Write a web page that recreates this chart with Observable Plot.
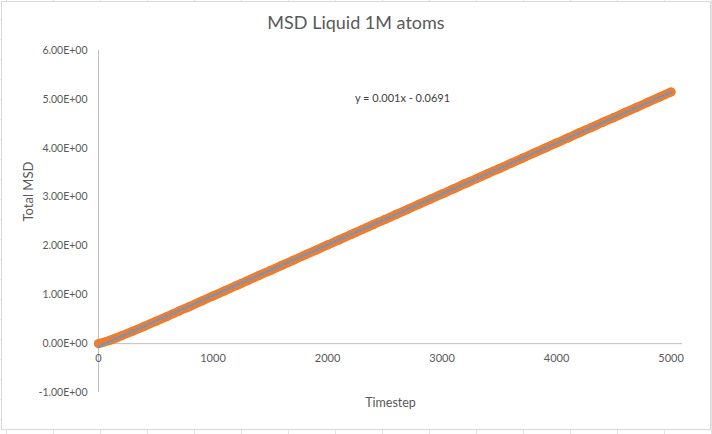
<!DOCTYPE html>
<html>
<head>
<meta charset="utf-8">
<script src="https://cdn.jsdelivr.net/npm/d3@7"></script>
<script src="https://cdn.jsdelivr.net/npm/@observablehq/plot@0.6"></script>
<style>
  html, body { margin: 0; padding: 0; }
  body {
    width: 712px; height: 434px; overflow: hidden; position: relative;
    background-color: #fff;
    background-image:
      repeating-linear-gradient(to bottom, transparent 0, transparent 19px, #e3e3e3 19px, #e3e3e3 20px),
      repeating-linear-gradient(to right, transparent 0, transparent 6px, #e3e3e3 6px, #e3e3e3 7px, transparent 7px, transparent 47px);
    font-family: Lato, "Liberation Sans", sans-serif;
  }
  #box {
    position: absolute; left: 1px; top: 1px; width: 708px; height: 427px;
    background: #fff; border: 1px solid #d9d9d9;
  }
  #title {
    position: absolute; left: 0; top: 10px; width: 712px; text-align: center;
    font-size: 18px; color: #595959; line-height: 24px;
  }
  #chart { position: absolute; left: 0; top: 0; }
</style>
</head>
<body>
<div id="box"></div>
<div id="title">MSD Liquid 1M atoms</div>
<div id="chart"></div>
<script>
// Data
const timesteps = [0,100,200,300,400,500,600,700,800,900,1000,1100,1200,1300,1400,1500,1600,1700,1800,1900,2000,
  2100,2200,2300,2400,2500,2600,2700,2800,2900,3000,3100,3200,3300,3400,3500,3600,3700,3800,3900,4000,
  4100,4200,4300,4400,4500,4600,4700,4800,4900,5000];
const totalMSD = [0.000,0.070,0.160,0.256,0.355,0.457,0.558,0.663,0.765,0.872,0.976,1.078,1.185,1.287,1.394,1.496,
  1.602,1.705,1.811,1.914,2.020,2.122,2.229,2.331,2.438,2.540,2.646,2.749,2.855,2.958,3.064,3.166,3.273,3.375,
  3.482,3.584,3.690,3.793,3.899,4.002,4.108,4.210,4.317,4.419,4.526,4.628,4.734,4.837,4.943,5.046,5.151];
const xTicks = [0,1000,2000,3000,4000,5000];
const yTicks = [-1,0,1,2,3,4,5,6];
const trendLabel = "y = 0.001x - 0.0691";
const xLabel = "Timestep";
const yLabel = "Total MSD";

const data = timesteps.map((t, i) => ({t, msd: totalMSD[i]}));

const sci = d => {
  const s = d.toExponential(2).toUpperCase();
  return s.replace(/E([+-])(\d)$/, "E$10$2");
};

const orange = "#ed7d31";
const blue = "#5b9bd5";
const grey = "#595959";

const chart = Plot.plot({
  width: 712,
  height: 434,
  marginLeft: 98,
  marginRight: 30,
  marginTop: 50,
  marginBottom: 42,
  style: {fontFamily: "Lato, 'Liberation Sans', sans-serif", fontSize: "11px", color: grey, background: "transparent", overflow: "visible"},
  x: {domain: [0, 5100], axis: null},
  y: {domain: [-1, 6], axis: null},
  marks: [
    Plot.ruleX([0], {stroke: "#bfbfbf", strokeWidth: 1}),
    Plot.ruleY([0], {stroke: "#bfbfbf", strokeWidth: 1}),
    Plot.axisY(yTicks, {tickSize: 0, tickPadding: 11, tickFormat: sci, label: null, fontSize: 10.5}),
    Plot.text(xTicks, {x: d => d, y: () => 0, dy: 15, text: d => String(d), fill: grey, fontSize: 11}),
    Plot.text([yLabel], {frameAnchor: "left", rotate: -90, dx: -70, fill: grey, fontSize: 13}),
    Plot.text([xLabel], {frameAnchor: "bottom", dy: 14, fill: grey, fontSize: 12.5}),
    Plot.line(data, {x: "t", y: "msd", stroke: orange, strokeWidth: 9, strokeLinecap: "round", curve: "monotone-x"}),
    Plot.dot(data, {x: "t", y: "msd", r: 4.5, fill: orange, stroke: null}),
    Plot.linearRegressionY(data, {x: "t", y: "msd", ci: 0, stroke: blue, strokeWidth: 2.25, strokeDasharray: "2,2.6"}),
    Plot.text([trendLabel], {frameAnchor: "top-left", dx: 304, dy: 44, fill: "#404040", fontSize: 11, textAnchor: "middle"})
  ]
});
document.getElementById("chart").appendChild(chart);
</script>
</body>
</html>
